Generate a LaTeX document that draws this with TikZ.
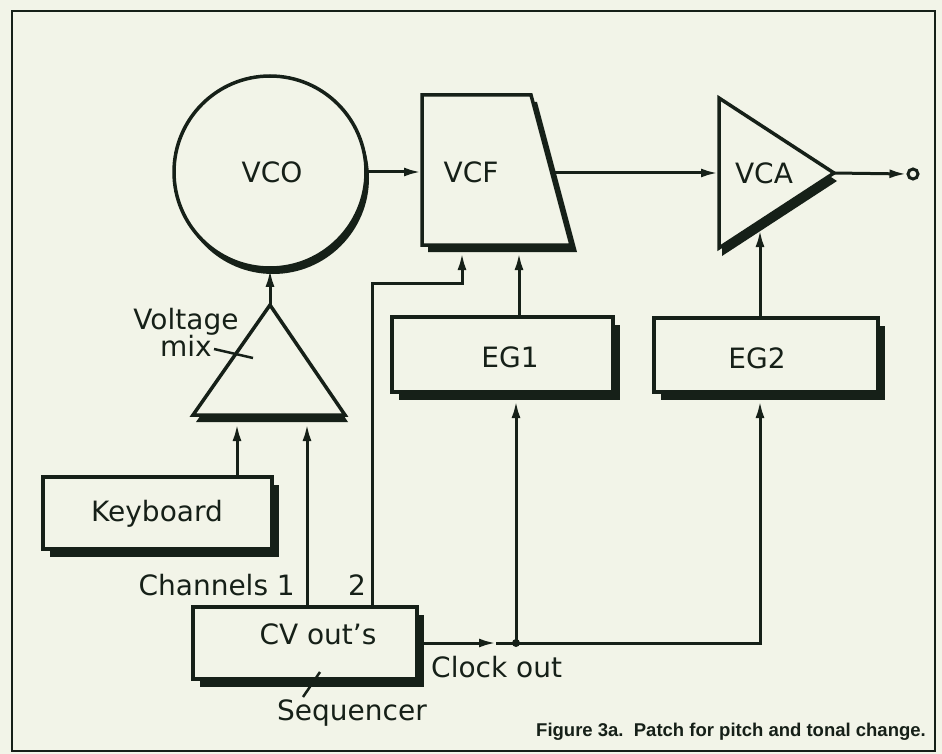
\documentclass[tikz,border=0pt]{standalone}
\usepackage{fontspec}
\setmainfont{DejaVu Sans}
\newfontfamily\capfont{Liberation Sans}
\usetikzlibrary{arrows.meta,shadows,calc}
\definecolor{bg}{RGB}{242,244,232}
\definecolor{ink}{RGB}{22,32,24}
\begin{document}
\begin{tikzpicture}[x=1pt,y=-1pt,
  lbl/.style={font=\fontsize{28}{30}\selectfont, text=ink, inner sep=0pt},
  wire/.style={draw=ink, line width=3pt},
  conn/.style={wire, -{Latex[length=17pt,width=9pt]}},
  boxnode/.style={draw=ink, fill=bg, line width=3.5pt, rectangle, inner sep=0pt,
     general shadow={fill=ink, shadow xshift=7pt, shadow yshift=-8pt}},
  shapeline/.style={draw=ink, fill=bg, line width=3.5pt, line join=miter}]
% background and frame
\fill[bg] (0,0) rectangle (942,754);
\draw[ink, line width=2.5pt] (12,11) rectangle (935,751);

% VCO
\node[circle, draw=ink, fill=bg, line width=3.5pt, minimum size=192pt, inner sep=0pt,
  general shadow={fill=ink, shadow xshift=3pt, shadow yshift=-6pt}] (vco) at (270,172) {};
\node[lbl] (vcotxt) at (272,172) {VCO};

% VCF trapezoid
\coordinate (f1) at (422,95);
\coordinate (f2) at (531,95);
\coordinate (f3) at (571,245);
\coordinate (f4) at (422,245);
\fill[ink] ($(f1)+(6,7)$) -- ($(f2)+(6,7)$) -- ($(f3)+(6,7)$) -- ($(f4)+(6,7)$) -- cycle;
\draw[shapeline] (f1) -- (f2) -- (f3) -- (f4) -- cycle;
\node[lbl] (vcf) at (471,172) {VCF};

% VCA triangle
\coordinate (a1) at (719,98);
\coordinate (a2) at (834,173);
\coordinate (a3) at (719,248);
\fill[ink] ($(a1)+(3,8)$) -- ($(a2)+(3,8)$) -- ($(a3)+(3,8)$) -- cycle;
\draw[shapeline] (a1) -- (a2) -- (a3) -- cycle;
\node[lbl] (vca) at (764,173) {VCA};

% Voltage mix triangle
\coordinate (m1) at (270,305);
\coordinate (m2) at (345,415);
\coordinate (m3) at (193,415);
\fill[ink] ($(m1)+(3,7)$) -- ($(m2)+(3,7)$) -- ($(m3)+(3,7)$) -- cycle;
\draw[shapeline] (m1) -- (m2) -- (m3) -- cycle;
\node[lbl, align=center] (mixtxt) at (186,332) {Voltage\\[-3pt]mix};
\draw[ink, line width=2.5pt] (214,349) -- (253,358);

% boxes
\node[boxnode, minimum width=229pt, minimum height=72pt] (kbd) at (157.5,513) {};
\node[lbl] (kbdtxt) at (157,514) {Keyboard};
\node[boxnode, minimum width=224pt, minimum height=72pt] (cv) at (305,643) {};
\node[lbl] (cvtxt) at (318,634) {CV out's};
\node[boxnode, minimum width=221pt, minimum height=75pt] (eg1) at (502.5,354.5) {};
\node[lbl] (eg1txt) at (510,357) {EG1};
\node[boxnode, minimum width=224pt, minimum height=74pt] (eg2) at (766,355) {};
\node[lbl] (eg2txt) at (757,358) {EG2};

% output terminal
\node[circle, draw=ink, fill=bg, line width=3pt, minimum size=10pt, inner sep=0pt] (out) at (913,174) {};

% labels
\node[lbl, anchor=east] (chtxt) at (295,585) {Channels 1};
\node[lbl] (ch2txt) at (357,585) {2};
\node[lbl, anchor=west] (clktxt) at (431,667) {Clock out};
\node[lbl] (seqtxt) at (352,713) {Sequencer};
\draw[ink, line width=2.5pt] (303,697) -- (320,672);
\node[anchor=east, inner sep=0pt, text=ink, font=\capfont\bfseries\fontsize{18.5}{20}\selectfont] (caption) at (926,732) {Figure 3a.\ \ Patch for pitch and tonal change.};

% connection points
\coordinate (vcfW) at (421,172);
\coordinate (vcfE) at (552,173);
\coordinate (vcaW) at (718,173);
\coordinate (vcfB) at (519,253);
\coordinate (vcfB2) at (462,253);
\coordinate (vcaB) at (760,230);
\coordinate (mixB1) at (237,424);
\coordinate (mixB2) at (307,424);
\coordinate (c2) at (372,283);
\coordinate (jn) at (516,643);
\coordinate (clkA) at (496,643);
\coordinate (eg1B) at (516,401);
\coordinate (eg2B) at (760,401);

% connectors
\draw[conn] (vco.east) -- (vcfW);
\draw[conn] (vcfE) -- (vcaW);
\draw[conn] (a2) -- (out.west);
\draw[conn] (eg2.north -| vcaB) -- (vcaB);
\draw[conn] (eg1.north -| vcfB) -- (vcfB);
\draw[conn] (m1) -- (vco.south);
\draw[conn] (kbd.north -| mixB1) -- (mixB1);
\draw[conn] (cv.north -| mixB2) -- (mixB2);
\draw[conn] (cv.north -| c2) -- (c2) -| (vcfB2);
\draw[conn] (cv.east) -- (clkA);
\draw[wire] (clkA) -- (jn);
\draw[conn] (jn) -- (eg1B);
\draw[conn] (jn) -| (eg2B);
\fill[ink] (jn) circle (4pt);
\end{tikzpicture}
\end{document}
